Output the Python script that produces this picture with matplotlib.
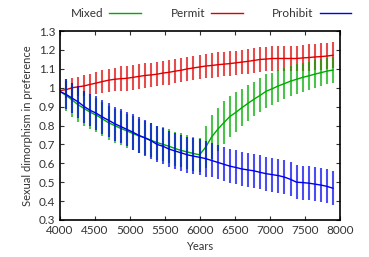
import numpy as np
import matplotlib
matplotlib.use("Agg")
import matplotlib.pyplot as plt
from matplotlib.ticker import FormatStrFormatter

plt.rcParams['font.family'] = ['Lato', 'DejaVu Sans']

years = np.linspace(4000, 7900, 46)

mixed = [0.98, 0.96, 0.935, 0.91, 0.89, 0.87, 0.855, 0.835, 0.815, 0.80,
         0.785, 0.772, 0.758, 0.745, 0.735, 0.722, 0.71, 0.70, 0.69, 0.678,
         0.668, 0.66, 0.652, 0.645, 0.685, 0.74, 0.78, 0.815, 0.848, 0.87,
         0.895, 0.918, 0.94, 0.96, 0.982, 0.995, 1.01, 1.022, 1.035, 1.045,
         1.055, 1.063, 1.072, 1.08, 1.088, 1.094]
mixed_err = [0.08, 0.085, 0.09, 0.09, 0.09, 0.09, 0.09, 0.09, 0.09, 0.09,
             0.09, 0.09, 0.09, 0.09, 0.09, 0.09, 0.09, 0.09, 0.09, 0.09,
             0.09, 0.09, 0.09, 0.09, 0.11, 0.115, 0.115, 0.115, 0.11, 0.105,
             0.1, 0.095, 0.09, 0.09, 0.09, 0.085, 0.085, 0.08, 0.08, 0.08,
             0.075, 0.075, 0.075, 0.07, 0.07, 0.07]

permit = [0.985, 0.99, 1.0, 1.005, 1.01, 1.018, 1.025, 1.033, 1.04, 1.045,
          1.048, 1.05, 1.055, 1.06, 1.065, 1.068, 1.072, 1.078, 1.082, 1.088,
          1.093, 1.10, 1.105, 1.11, 1.115, 1.118, 1.122, 1.125, 1.128, 1.132,
          1.136, 1.14, 1.145, 1.15, 1.152, 1.155, 1.155, 1.155, 1.155, 1.155,
          1.158, 1.16, 1.163, 1.165, 1.168, 1.172]
permit_err = [0.045, 0.045, 0.05, 0.05, 0.055, 0.055, 0.06, 0.06, 0.06, 0.06,
              0.065, 0.065, 0.065, 0.065, 0.065, 0.065, 0.065, 0.065, 0.065, 0.065,
              0.065, 0.065, 0.065, 0.065, 0.065, 0.065, 0.065, 0.065, 0.065, 0.065,
              0.065, 0.065, 0.065, 0.065, 0.065, 0.065, 0.065, 0.065, 0.065, 0.065,
              0.07, 0.07, 0.07, 0.07, 0.07, 0.07]

prohibit = [0.98, 0.965, 0.945, 0.925, 0.90, 0.88, 0.865, 0.845, 0.828, 0.81,
            0.795, 0.78, 0.765, 0.748, 0.735, 0.72, 0.70, 0.69, 0.675, 0.665,
            0.655, 0.645, 0.638, 0.632, 0.625, 0.615, 0.605, 0.595, 0.585, 0.578,
            0.57, 0.565, 0.56, 0.552, 0.545, 0.54, 0.535, 0.527, 0.515, 0.50,
            0.498, 0.495, 0.49, 0.485, 0.478, 0.468]
prohibit_err = [0.08, 0.08, 0.08, 0.085, 0.085, 0.085, 0.09, 0.09, 0.09, 0.09,
                0.09, 0.09, 0.095, 0.095, 0.095, 0.095, 0.095, 0.095, 0.095, 0.095,
                0.095, 0.095, 0.095, 0.095, 0.095, 0.09, 0.09, 0.09, 0.09, 0.09,
                0.09, 0.09, 0.09, 0.09, 0.09, 0.09, 0.09, 0.09, 0.09, 0.09,
                0.09, 0.09, 0.09, 0.09, 0.09, 0.09]

fig = plt.figure(figsize=(3.69, 2.57), dpi=100)
ax = fig.add_axes([0.1626, 0.144, 0.7588, 0.735])

series = [("Permit", permit, permit_err, "#dd0000"),
          ("Mixed", mixed, mixed_err, "#00aa00"),
          ("Prohibit", prohibit, prohibit_err, "#0000ee")]
handles = {}
for name, vals, err, col in series:
    ax.errorbar(years, vals, yerr=err, fmt='none', ecolor=col, elinewidth=1.5,
                alpha=0.7, errorevery=(1, 1))
    line, = ax.plot(years, vals, color=col, lw=1.0, label=name)
    handles[name] = line

ax.set_xlim(4000, 8000)
ax.set_ylim(0.3, 1.3)
ax.set_xticks(np.arange(4000, 8001, 500))
ax.set_yticks(np.arange(0.3, 1.31, 0.1))
ax.yaxis.set_major_formatter(FormatStrFormatter('%g'))
ax.tick_params(direction='in', top=True, right=True, labelsize=8.5,
               length=3, width=0.8, colors='#333333', labelcolor='#333333')
for s in ax.spines.values():
    s.set_linewidth(1.2)
ax.set_xlabel("Years", fontsize=8, color='#333333')
ax.set_ylabel("Sexual dimorphism in preference", fontsize=8, color='#333333')

order = ["Mixed", "Permit", "Prohibit"]
fig.legend([handles[n] for n in order], order, loc='upper center',
           bbox_to_anchor=(0.572, 1.01), ncol=3, frameon=False, markerfirst=False,
           fontsize=8.5, handlelength=2.7, columnspacing=2.5, handletextpad=0.5,
           labelcolor='#333333')

fig.savefig("out.png", dpi=100)
